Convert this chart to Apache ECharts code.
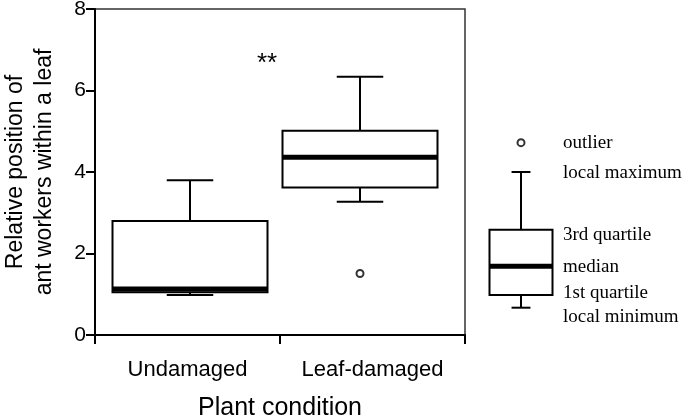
<!DOCTYPE html>
<html>
<head>
<meta charset="utf-8">
<script src="https://cdn.jsdelivr.net/npm/echarts@6/dist/echarts.min.js"></script>
<style>
  html, body { margin: 0; padding: 0; background: #fff; }
  #chart { width: 685px; height: 420px; }
</style>
</head>
<body>
<div id="chart"></div>
<script>
// categories and box statistics (min, q1, median, q3, max)
const categories = ['Undamaged', 'Leaf-damaged'];
const lowWhisker = [0.98, 3.27];
const quartile1 = [1.05, 3.62];
const medians = [1.13, 4.36];
const quartile3 = [2.80, 5.01];
const highWhisker = [3.80, 6.34];
const outliers = [[1, 1.51]];
const yTicks = [0, 2, 4, 6, 8];

// explanatory key on the right
const keyBox = [0.67, 0.98, 1.69, 2.58, 4.0];
const keyOutlier = 4.72;
const keyLabels = ['outlier', 'local maximum', '3rd quartile', 'median', '1st quartile', 'local minimum'];
const keyLabelY = [143, 173, 235, 267, 293, 317];

const myChart = echarts.init(document.getElementById('chart'));

function boxRender(boxW) {
  return function (params, api) {
    const i = api.value(0);
    const x = api.coord([i, api.value(1)])[0];
    const yMin = api.coord([i, api.value(1)])[1];
    const yQ1 = api.coord([i, api.value(2)])[1];
    const yMed = api.coord([i, api.value(3)])[1];
    const yQ3 = api.coord([i, api.value(4)])[1];
    const yMax = api.coord([i, api.value(5)])[1];
    const capW = boxW * 0.3;
    const ln = { stroke: '#000', lineWidth: 2 };
    return {
      type: 'group',
      children: [
        { type: 'line', shape: { x1: x, y1: yMax, x2: x, y2: yQ3 }, style: ln },
        { type: 'line', shape: { x1: x - capW / 2, y1: yMax, x2: x + capW / 2, y2: yMax }, style: ln },
        { type: 'line', shape: { x1: x, y1: yMin, x2: x, y2: yQ1 }, style: ln },
        { type: 'line', shape: { x1: x - capW / 2, y1: yMin, x2: x + capW / 2, y2: yMin }, style: ln },
        { type: 'rect', shape: { x: x - boxW / 2, y: yQ3, width: boxW, height: yQ1 - yQ3 },
          style: { fill: '#fff', stroke: '#000', lineWidth: 2 } },
        { type: 'line', shape: { x1: x - boxW / 2, y1: yMed, x2: x + boxW / 2, y2: yMed },
          style: { stroke: '#000', lineWidth: 5 } }
      ]
    };
  };
}

const boxData = categories.map((c, i) => [i, lowWhisker[i], quartile1[i], medians[i], quartile3[i], highWhisker[i]]);

const hiddenX = (grid, data) => ({
  type: 'category', gridIndex: grid, data: data,
  axisLine: { show: false }, axisTick: { show: false }, axisLabel: { show: false }
});
const hiddenY = (grid) => ({
  type: 'value', gridIndex: grid, min: 0, max: 8,
  axisLine: { show: false }, axisTick: { show: false }, axisLabel: { show: false }, splitLine: { show: false }
});

const font = 'Liberation Sans, Arial, sans-serif';
const serif = 'Liberation Serif, Times New Roman, serif';

let option = {
  backgroundColor: '#fff',
  animation: false,
  grid: [
    { left: 95, top: 9, width: 370, height: 326, containLabel: false, outerBoundsMode: 'none',
      show: true, borderColor: '#333', borderWidth: 1.5, backgroundColor: 'transparent' },
    { left: 105, top: 9, width: 340, height: 326, containLabel: false, outerBoundsMode: 'none' },
    { left: 486, top: 9, width: 70, height: 326, containLabel: false, outerBoundsMode: 'none' }
  ],
  xAxis: [
    {
      type: 'category', gridIndex: 0, data: categories,
      axisLine: { lineStyle: { color: '#000', width: 2 } },
      axisTick: { show: true, length: 9, lineStyle: { color: '#000', width: 2 } },
      axisLabel: { interval: 0, hideOverlap: false, margin: 24, fontSize: 22, color: '#000', fontFamily: font },
      name: 'Plant condition', nameLocation: 'middle', nameGap: 61,
      nameTextStyle: { fontSize: 25, color: '#000', fontFamily: font }
    },
    hiddenX(1, categories),
    hiddenX(2, ['key'])
  ],
  yAxis: [
    {
      type: 'value', gridIndex: 0, min: yTicks[0], max: yTicks[yTicks.length - 1], interval: 2,
      axisLine: { show: true, lineStyle: { color: '#000', width: 2 } },
      axisTick: { show: true, length: 9, lineStyle: { color: '#000', width: 2 } },
      axisLabel: { margin: 9, fontSize: 21, color: '#000', fontFamily: font },
      splitLine: { show: false },
      name: 'Relative position of\nant workers within a leaf', nameLocation: 'middle', nameGap: 36,
      nameTextStyle: { fontSize: 23, lineHeight: 29, color: '#000', fontFamily: font }
    },
    hiddenY(1),
    hiddenY(2)
  ],
  series: [
    {
      type: 'custom', xAxisIndex: 1, yAxisIndex: 1,
      renderItem: boxRender(155),
      encode: { x: 0, y: [1, 2, 3, 4, 5] },
      data: boxData
    },
    {
      type: 'scatter', xAxisIndex: 1, yAxisIndex: 1,
      symbol: 'circle', symbolSize: 7,
      itemStyle: { color: '#fff', borderColor: '#000', borderWidth: 2 },
      data: outliers
    },
    {
      type: 'custom', xAxisIndex: 2, yAxisIndex: 2,
      renderItem: boxRender(63),
      encode: { x: 0, y: [1, 2, 3, 4, 5] },
      data: [[0].concat(keyBox)]
    },
    {
      type: 'scatter', xAxisIndex: 2, yAxisIndex: 2,
      symbol: 'circle', symbolSize: 7,
      itemStyle: { color: '#fff', borderColor: '#000', borderWidth: 2 },
      data: [[0, keyOutlier]]
    }
  ],
  graphic: [
    { type: 'text', x: 257, y: 64, style: { text: '**', font: '26px ' + font, fill: '#000', verticalAlign: 'middle' } }
  ].concat(keyLabels.map((t, i) => ({
    type: 'text', x: 563, y: keyLabelY[i],
    style: { text: t, font: '19px ' + serif, fill: '#000', verticalAlign: 'middle' }
  })))
};

myChart.setOption(option);
window.onresize = function () {
  myChart.resize();
};
</script>
</body>
</html>
